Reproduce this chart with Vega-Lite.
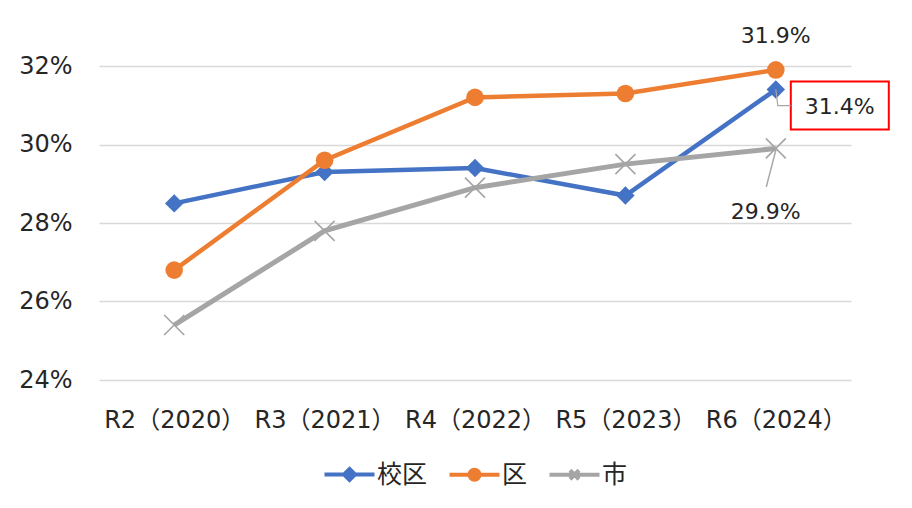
{
  "$schema": "https://vega.github.io/schema/vega-lite/v6.json",
  "width": 752,
  "height": 314,
  "autosize": {"type": "none"},
  "padding": {"left": 99, "top": 66, "right": 61, "bottom": 128},
  "background": "white",
  "config": {"view": {"stroke": null}},
  "data": {
    "values": [
      {"year": "R2（2020）", "series": "校区", "value": 0.285},
      {"year": "R3（2021）", "series": "校区", "value": 0.293},
      {"year": "R4（2022）", "series": "校区", "value": 0.294},
      {"year": "R5（2023）", "series": "校区", "value": 0.287},
      {"year": "R6（2024）", "series": "校区", "value": 0.314},
      {"year": "R2（2020）", "series": "区", "value": 0.268},
      {"year": "R3（2021）", "series": "区", "value": 0.296},
      {"year": "R4（2022）", "series": "区", "value": 0.312},
      {"year": "R5（2023）", "series": "区", "value": 0.313},
      {"year": "R6（2024）", "series": "区", "value": 0.319},
      {"year": "R2（2020）", "series": "市", "value": 0.254},
      {"year": "R3（2021）", "series": "市", "value": 0.278},
      {"year": "R4（2022）", "series": "市", "value": 0.289},
      {"year": "R5（2023）", "series": "市", "value": 0.295},
      {"year": "R6（2024）", "series": "市", "value": 0.299}
    ]
  },
  "encoding": {
    "x": {
      "field": "year",
      "type": "nominal",
      "scale": {"type": "point", "padding": 0.5, "domain": ["R2（2020）", "R3（2021）", "R4（2022）", "R5（2023）", "R6（2024）"]},
      "axis": {"title": null, "domain": false, "ticks": false, "labelAngle": 0, "labelFont": "DejaVu Sans, Noto Sans CJK JP", "labelFontSize": 24, "labelColor": "#262626", "labelPadding": 28}
    },
    "y": {
      "field": "value",
      "type": "quantitative",
      "scale": {"domain": [0.24, 0.32]},
      "axis": {"title": null, "values": [0.24, 0.26, 0.28, 0.30, 0.32], "format": ".0%", "domain": false, "ticks": false, "gridColor": "#d9d9d9", "gridWidth": 1.5, "labelFont": "DejaVu Sans", "labelFontSize": 24, "labelColor": "#262626", "labelPadding": 27}
    }
  },
  "layer": [
    {
      "transform": [{"filter": "datum.series === '校区'"}],
      "mark": {"type": "line", "color": "#4472C4", "strokeWidth": 4.5, "point": {"shape": "diamond", "size": 340, "filled": true, "color": "#4472C4"}}
    },
    {
      "transform": [{"filter": "datum.series === '区'"}],
      "mark": {"type": "line", "color": "#ED7D31", "strokeWidth": 4.5, "point": {"shape": "circle", "size": 310, "filled": true, "color": "#ED7D31"}}
    },
    {
      "transform": [{"filter": "datum.series === '市'"}],
      "mark": {"type": "line", "color": "#A5A5A5", "strokeWidth": 5, "point": {"shape": "M-1,-1L1,1M-1,1L1,-1", "size": 400, "filled": false, "strokeWidth": 1.6, "color": "#A5A5A5"}}
    },
    {
      "transform": [{"filter": "datum.series === '区' && datum.year === 'R6（2024）'"}],
      "mark": {"type": "text", "dy": -34, "font": "DejaVu Sans", "fontSize": 22, "color": "#262626"},
      "encoding": {"text": {"field": "value", "format": ".1%"}}
    },
    {
      "transform": [{"filter": "datum.series === '校区' && datum.year === 'R6（2024）'"}],
      "mark": {"type": "text", "dx": 64, "dy": 17, "font": "DejaVu Sans", "fontSize": 22, "color": "#262626"},
      "encoding": {"text": {"field": "value", "format": ".1%"}}
    },
    {
      "transform": [{"filter": "datum.series === '市' && datum.year === 'R6（2024）'"}],
      "mark": {"type": "text", "dx": -10, "dy": 64, "font": "DejaVu Sans", "fontSize": 22, "color": "#262626"},
      "encoding": {"text": {"field": "value", "format": ".1%"}}
    },
    {
      "transform": [{"filter": "datum.series === '校区' && datum.year === 'R6（2024）'"}],
      "mark": {"type": "point", "shape": "M-4.9,-2.4H4.9V2.4H-4.9Z", "size": 400, "filled": false, "stroke": "#FF0000", "strokeWidth": 2, "opacity": 1, "xOffset": 64, "yOffset": 16}
    },
    {
      "transform": [{"filter": "datum.series === '校区' && datum.year === 'R6（2024）'"}],
      "mark": {"type": "point", "shape": "M0,0L0.2,1.6L1.5,1.6", "size": 400, "filled": false, "stroke": "#A6A6A6", "strokeWidth": 1.2, "opacity": 1}
    },
    {
      "transform": [{"filter": "datum.series === '市' && datum.year === 'R6（2024）'"}],
      "mark": {"type": "point", "shape": "M-0.95,3.85L0.05,0", "size": 400, "filled": false, "stroke": "#A6A6A6", "strokeWidth": 1.5, "opacity": 1}
    },
    {
      "mark": {"type": "point", "opacity": 0, "filled": true},
      "encoding": {
        "color": {
          "field": "series",
          "type": "nominal",
          "scale": {"domain": ["校区", "区", "市"], "range": ["#4472C4", "#ED7D31", "#A5A5A5"]},
          "legend": {
            "title": null,
            "orient": "none",
            "legendX": 238,
            "legendY": 396,
            "direction": "horizontal",
            "symbolSize": 400,
            "labelFont": "Noto Sans CJK JP",
            "labelFontSize": 25,
            "labelColor": "#262626",
            "labelOffset": 15,
            "columnPadding": 13,
            "encode": {"symbols": {"update": {"opacity": {"value": 1}, "fill": {"scale": "color", "field": "value"}, "stroke": {"scale": "color", "field": "value"}, "strokeWidth": {"value": 4}}}}
          }
        },
        "shape": {
          "field": "series",
          "type": "nominal",
          "scale": {"domain": ["校区", "区", "市"], "range": ["M-2.5,0L2.5,0M0,-0.55L0.55,0L0,0.55L-0.55,0Z", "M-2.5,0L2.5,0M-0.5,0A0.5,0.5,0,1,0,0.5,0A0.5,0.5,0,1,0,-0.5,0Z", "M-2.5,0L2.5,0M-0.45,-0.45L0.45,0.45M-0.45,0.45L0.45,-0.45"]}
        }
      }
    }
  ]
}
